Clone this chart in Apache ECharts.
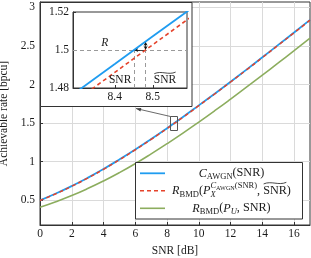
<!DOCTYPE html>
<html><head><meta charset="utf-8">
<script src="https://cdn.jsdelivr.net/npm/echarts@6/dist/echarts.min.js"></script>
<style>html,body{margin:0;padding:0;background:#fff}#c{width:311px;height:258px}</style>
</head><body><div id="c"></div>
<script>
// ---- data ----
const snrDb = [0,1,2,3,4,5,6,7,8,9,10,11,12,13,14,15,16,17];
const cAwgn = [0.500,0.588,0.685,0.791,0.906,1.029,1.158,1.294,1.435,1.580,1.730,1.882,2.037,2.194,2.353,2.514,2.675,2.838];
const rBmdShaped = [0.497,0.585,0.682,0.788,0.902,1.025,1.154,1.290,1.431,1.576,1.726,1.878,2.033,2.190,2.349,2.510,2.671,2.834];
const rBmdUniform = [0.410,0.482,0.562,0.652,0.751,0.859,0.976,1.102,1.234,1.371,1.514,1.661,1.812,1.966,2.122,2.280,2.440,2.601];
const xTicks = [0,2,4,6,8,10,12,14,16];
const yTicks = [0.5,1,1.5,2,2.5,3];
// zoomed inset
const zoomSnr = [8.25,8.3,8.4,8.5,8.6,8.65];
const zoomCAwgn = [1.4708,1.4781,1.4926,1.5072,1.5217,1.5290];
const zoomRBmd = [1.4664,1.4737,1.4882,1.5028,1.5173,1.5246];
const zoomXTicks = [8.4,8.5];
const zoomYTicks = [1.48,1.5,1.52];
const rateR = 1.5;
const snrAtR = 8.451;
const snrTildeAtR = 8.481;
const cAtSnrTilde = 1.5044;

const FF = '"Liberation Serif"';
const FS = 11.5;
const LFS = 12.2;
const TXT = '#1a1a1a';
const AX = '#333';
const BLUE = '#1f9cf0', RED = '#e5432b', GREEN = '#8cad5e';

const zip = (a,b) => a.map((v,i)=>[v,b[i]]);

const chart = echarts.init(document.getElementById('c'), null, {renderer:'canvas'});

const option = {
  animation: false,
  textStyle: {fontFamily: FF},
  grid: [
    {left: 40, top: 2, right: 1, bottom: 33, show: true, borderColor: AX, borderWidth: 1, containLabel: false, outerBoundsMode: 'none'},
    {left: 73, top: 12, width: 114, height: 76, show: true, borderColor: AX, borderWidth: 1, containLabel: false, outerBoundsMode: 'none', z: 4}
  ],
  xAxis: [
    {type: 'value', gridIndex: 0, min: 0, max: 17,
     name: 'SNR [dB]', nameLocation: 'middle', nameGap: 18,
     nameTextStyle: {fontFamily: FF, fontSize: FS, color: TXT},
     axisLine: {show: true, lineStyle: {color: AX}},
     axisTick: {show: true, inside: true, length: 3, customValues: xTicks, lineStyle: {color: AX}},
     axisLabel: {customValues: xTicks, fontFamily: FF, fontSize: FS, color: TXT, margin: 3},
     splitLine: {show: true, lineStyle: {color: '#dadada', width: 1}}},
    {type: 'value', gridIndex: 1, min: 8.29, max: 8.59, z: 4,
     axisLine: {show: true, lineStyle: {color: AX}},
     axisTick: {show: true, inside: true, length: 3, customValues: zoomXTicks, lineStyle: {color: AX}},
     axisLabel: {customValues: zoomXTicks, fontFamily: FF, fontSize: FS, color: TXT, margin: 3},
     splitLine: {show: false}}
  ],
  yAxis: [
    {type: 'value', gridIndex: 0, min: 0.18, max: 3.07,
     name: 'Achievable rate [bpcu]', nameLocation: 'middle', nameGap: 27,
     nameTextStyle: {fontFamily: FF, fontSize: FS, color: TXT},
     axisLine: {show: true, lineStyle: {color: AX}},
     axisTick: {show: true, inside: true, length: 3, customValues: yTicks, lineStyle: {color: AX}},
     axisLabel: {customValues: yTicks, fontFamily: FF, fontSize: FS, color: TXT, margin: 5},
     splitLine: {show: true, lineStyle: {color: '#dadada', width: 1}}},
    {type: 'value', gridIndex: 1, min: 1.48, max: 1.52, interval: 0.02, z: 4,
     axisLine: {show: true, lineStyle: {color: AX}},
     axisTick: {show: true, inside: true, length: 3, lineStyle: {color: AX}},
     axisLabel: {fontFamily: FF, fontSize: FS, color: TXT, margin: 4},
     splitLine: {show: false}}
  ],
  series: [
    {type: 'line', xAxisIndex: 0, yAxisIndex: 0, data: zip(snrDb, cAwgn), symbol: 'none', smooth: true, z: 2,
     lineStyle: {color: BLUE, width: 1.8}},
    {type: 'line', xAxisIndex: 0, yAxisIndex: 0, data: zip(snrDb, rBmdShaped), symbol: 'none', smooth: true, z: 2,
     lineStyle: {color: RED, width: 1.5, type: [4, 3]}},
    {type: 'line', xAxisIndex: 0, yAxisIndex: 0, data: zip(snrDb, rBmdUniform), symbol: 'none', smooth: true, z: 2,
     lineStyle: {color: GREEN, width: 1.6}},
    {type: 'line', xAxisIndex: 1, yAxisIndex: 1, data: [], symbol: 'none', z: 5,
     markLine: {silent: true, symbol: ['none','none'], label: {show: false}, animation: false,
       lineStyle: {color: '#9a9a9a', type: [4,3], width: 1},
       data: [
         {yAxis: rateR},
         [{coord: [snrAtR, 1.48]}, {coord: [snrAtR, rateR]}],
         [{coord: [snrTildeAtR, 1.48]}, {coord: [snrTildeAtR, rateR]}]
       ]}},
    {type: 'line', xAxisIndex: 1, yAxisIndex: 1, data: zip(zoomSnr, zoomCAwgn), symbol: 'none', z: 6,
     lineStyle: {color: BLUE, width: 1.8}},
    {type: 'line', xAxisIndex: 1, yAxisIndex: 1, data: zip(zoomSnr, zoomRBmd), symbol: 'none', z: 7,
     lineStyle: {color: RED, width: 1.6, type: [4, 3]}},
    {type: 'line', xAxisIndex: 1, yAxisIndex: 1, data: [], symbol: 'none', z: 8,
     markLine: {silent: true, label: {show: false}, symbolSize: [3, 4], animation: false,
       lineStyle: {color: '#111', type: 'solid', width: 0.8},
       data: [
         [{coord: [snrTildeAtR, rateR], symbol: 'none'}, {coord: [snrAtR, rateR], symbol: 'arrow'}],
         [{coord: [snrTildeAtR, rateR], symbol: 'arrow'}, {coord: [snrTildeAtR, cAtSnrTilde], symbol: 'arrow'}]
       ]}}
  ]
};
chart.setOption(option);

// ---- annotations (legend, inset frame, labels) ----
const ctx = document.createElement('canvas').getContext('2d');
const fnt = (s, it) => (it ? 'italic ' : '') + s + 'px ' + FF;
const mw = (t, s, it) => { ctx.font = fnt(s, it); return ctx.measureText(t).width; };
function fw(f) {
  if (f.stack) return Math.max(...f.stack.map(r => r.reduce((a, g) => a + fw(g), 0)));
  return mw(f.t, f.s || FS, f.it);
}
function lay(frags, x, y, out, z) {
  for (const f of frags) {
    if (f.stack) { for (const r of f.stack) lay(r, x, y, out, z); x += fw(f); continue; }
    const s = f.s || FS, w = mw(f.t, s, f.it);
    out.push({type: 'text', z: z, silent: true, style: {text: f.t, x: x, y: y + (f.dy || 0), font: fnt(s, f.it), fill: TXT,
      align: 'left', textAlign: 'left', verticalAlign: 'middle', textVerticalAlign: 'middle'}});
    if (f.tilde) {
      const ty = y + (f.dy || 0) - s * 0.62;
      out.push({type: 'bezierCurve', z: z, silent: true, shape: {x1: x + 0.5, y1: ty + 0.8, cpx1: x + w * 0.35, cpy1: ty - 2.6, cpx2: x + w * 0.65, cpy2: ty + 2.6, x2: x + w - 0.5, y2: ty - 0.8},
        style: {stroke: TXT, lineWidth: 0.8, fill: null}});
    }
    x += w;
  }
  return x;
}
function richCentered(frags, cx, cy, out, z) {
  const w = frags.reduce((a, f) => a + fw(f), 0);
  lay(frags, cx - w / 2, cy, out, z);
}
const SUB = 8.5, SUBDY = 3.6, SUPDY = -4.8;
const legendRows = [
  {color: BLUE, dash: null, frags: [{t: 'C', it: true, s: LFS}, {t: 'AWGN', s: SUB, dy: SUBDY}, {t: '(SNR)', s: LFS}]},
  {color: RED, dash: [4, 3], frags: [{t: 'R', it: true, s: LFS}, {t: 'BMD', s: SUB, dy: SUBDY}, {t: '(', s: LFS}, {t: 'P', it: true, s: LFS},
    {stack: [[{t: 'C', s: SUB, it: true, dy: SUPDY}, {t: 'AWGN', s: 6.2, dy: SUPDY + 2.2}, {t: '(SNR)', s: SUB, dy: SUPDY}],
             [{t: 'X', s: SUB, it: true, dy: SUBDY + 0.6}]]},
    {t: ', ', s: LFS}, {t: 'SNR', tilde: true, s: LFS}, {t: ')', s: LFS}]},
  {color: GREEN, dash: null, frags: [{t: 'R', it: true, s: LFS}, {t: 'BMD', s: SUB, dy: SUBDY}, {t: '(', s: LFS}, {t: 'P', it: true, s: LFS},
    {t: 'U', s: SUB, it: true, dy: SUBDY}, {t: ', SNR)', s: LFS}]}
];

const g = [];
// inset frame (white)
const gl = chart.convertToPixel({gridIndex: 0}, [0, 3.07]);
g.push({type: 'rect', z: 3, silent: true, shape: {x: gl[0] + 0.5, y: gl[1] + 0.5, width: 151.5, height: 104},
  style: {fill: '#fff', stroke: AX, lineWidth: 1}});
// zoom marker rectangle on the main curve
const rc = chart.convertToPixel({gridIndex: 0}, [8.4, rateR]);
const rx = Math.round(rc[0] - 3.5) + 0.5, ry = Math.round(rc[1] - 7) + 0.5;
g.push({type: 'rect', z: 7, silent: true, shape: {x: rx, y: ry, width: 7, height: 14}, style: {fill: null, stroke: '#555', lineWidth: 1}});
// pointer from rectangle to inset
const ax0 = 136, ay0 = gl[1] + 106.5;
g.push({type: 'line', z: 7, silent: true, shape: {x1: rx, y1: ry, x2: ax0, y2: ay0}, style: {stroke: '#444', lineWidth: 0.8}});
{
  const dx = rx - ax0, dy = ry - ay0, L = Math.hypot(dx, dy), ux = dx / L, uy = dy / L;
  const hl = 5, hw = 1.8;
  g.push({type: 'polygon', z: 7, silent: true, shape: {points: [[ax0, ay0], [ax0 + ux * hl - uy * hw, ay0 + uy * hl + ux * hw], [ax0 + ux * hl + uy * hw, ay0 + uy * hl - ux * hw]]},
    style: {fill: '#444'}});
}
// inset labels
const pR = chart.convertToPixel({gridIndex: 1}, [8.375, 1.5038]);
lay([{t: 'R', it: true}], pR[0] - 4, pR[1], g, 9);
const pS = chart.convertToPixel({gridIndex: 1}, [8.414, 1.4842]);
richCentered([{t: 'SNR'}], pS[0], pS[1], g, 9);
const pT = chart.convertToPixel({gridIndex: 1}, [8.532, 1.4842]);
richCentered([{t: 'SNR', tilde: true}], pT[0], pT[1], g, 9);

// legend box
const LX = 135.5, LY = 162.5, LW = 167, LH = 56.5;
g.push({type: 'rect', z: 9, silent: true, shape: {x: LX, y: LY, width: LW, height: LH}, style: {fill: '#fff', stroke: AX, lineWidth: 1}});
const rowY = [173.3, 190.7, 208.3];
legendRows.forEach((r, i) => {
  g.push({type: 'line', z: 10, silent: true, shape: {x1: 140, y1: rowY[i], x2: 165, y2: rowY[i]},
    style: {stroke: r.color, lineWidth: r.color === BLUE ? 1.8 : 1.6, lineDash: r.dash}});
  richCentered(r.frags, 231.5, rowY[i], g, 10);
});
chart.setOption({graphic: {elements: g}});
</script>
</body></html>
